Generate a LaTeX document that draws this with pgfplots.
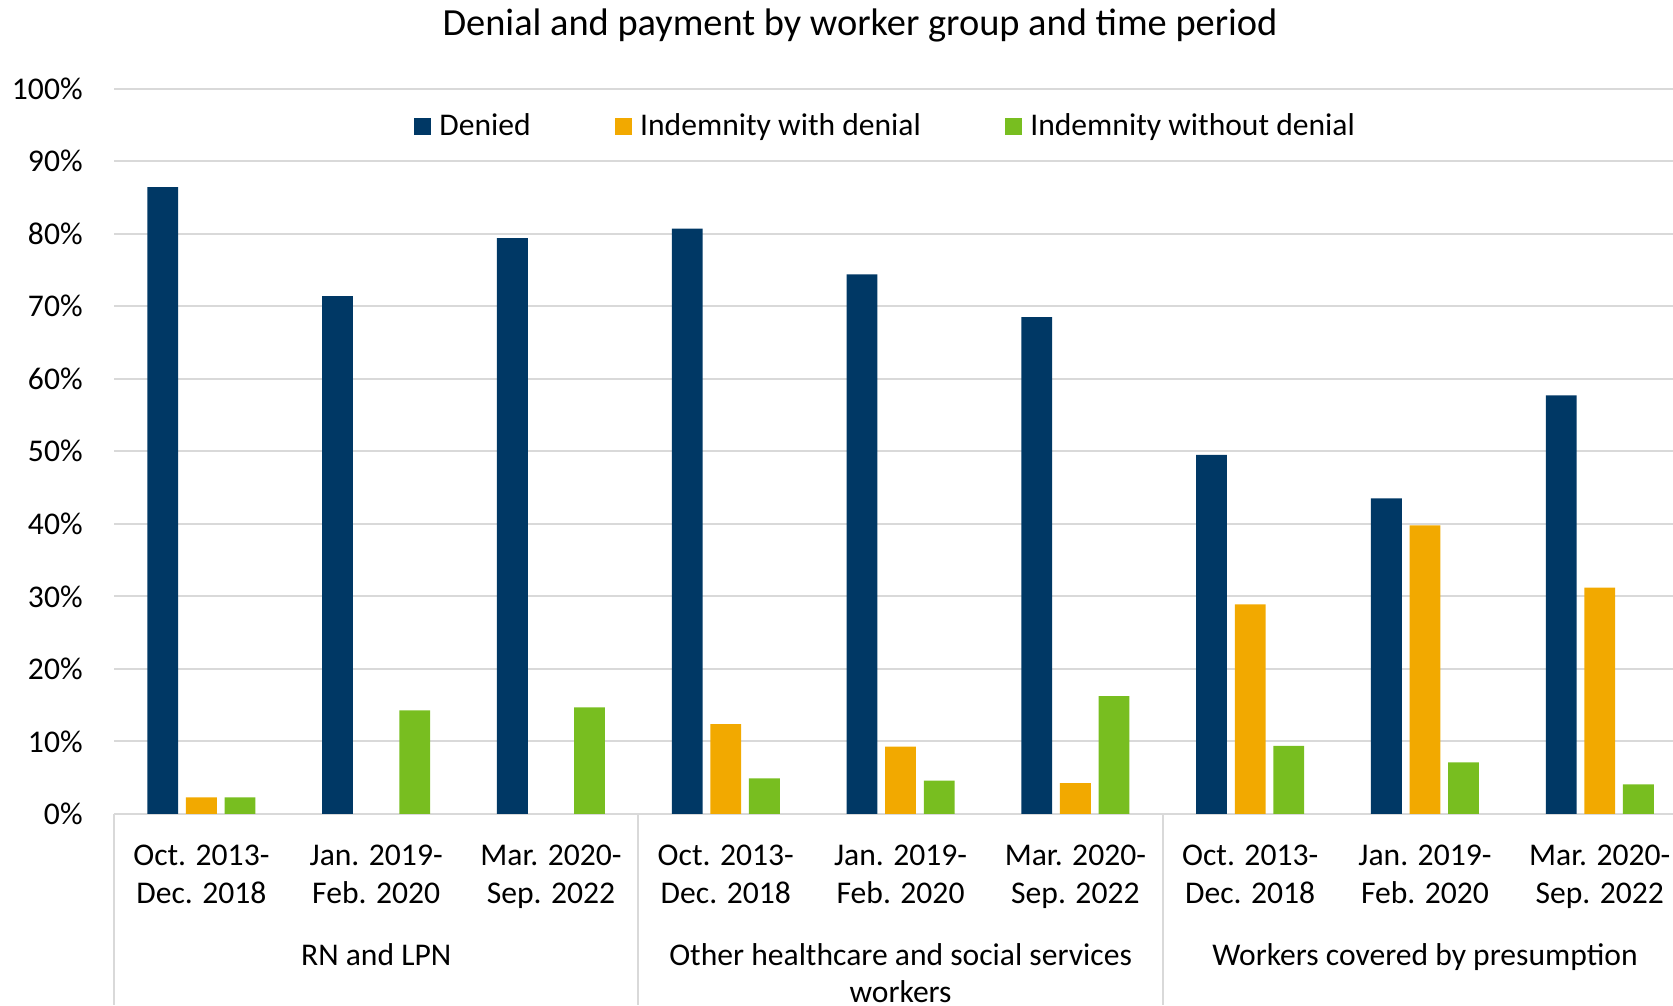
\documentclass[border=0pt]{standalone}
\usepackage{fontspec}
\setmainfont{Carlito}
\usepackage{pgfplots}
\pgfplotsset{compat=1.18}
\definecolor{navy}{HTML}{003865}
\definecolor{gold}{HTML}{F2A900}
\definecolor{lgreen}{HTML}{78BE20}
\definecolor{gridgray}{HTML}{D9D9D9}
\newcommand{\cf}{\fontsize{15.8}{19}\selectfont}
\pgfplotsset{sq/.style={legend image code/.code={\fill[##1] (0pt,-4.25pt) rectangle (8.5pt,4.25pt); \path (10.7pt,0pt);}}}
\begin{document}
\begin{tikzpicture}
\path[use as bounding box] (0,0) rectangle (836.5pt,502.5pt);
\node[font=\fontsize{19.2}{23}\selectfont, anchor=base] at (430pt,484.5pt) {Denial and payment by worker group and time period};
\begin{axis}[
  at={(57pt,95.5pt)}, anchor=south west,
  width=779.5pt, height=362.7pt, scale only axis,
  xmin=-0.5, xmax=8.419, ymin=0, ymax=100,
  ytick={0,10,...,100},
  yticklabels={0\%,10\%,20\%,30\%,40\%,50\%,60\%,70\%,80\%,90\%,100\%},
  xtick={0,...,8},
  xticklabels={{Oct. 2013-\\Dec. 2018},{Jan. 2019-\\Feb. 2020},{Mar. 2020-\\Sep. 2022},
               {Oct. 2013-\\Dec. 2018},{Jan. 2019-\\Feb. 2020},{Mar. 2020-\\Sep. 2022},
               {Oct. 2013-\\Dec. 2018},{Jan. 2019-\\Feb. 2020},{Mar. 2020-\\Sep. 2022}},
  xticklabel style={font=\cf, align=center, anchor=north, inner sep=0pt, yshift=-15.5pt},
  yticklabel style={font=\cf, anchor=east, inner sep=0pt, xshift=-15.5pt},
  ymajorgrids, grid style={gridgray, line width=1pt},
  axis line style={draw=none}, tick style={draw=none},
  major tick length=0pt,
  ybar=3.9pt, bar width=15.4pt,
  clip=false,
  legend style={at={(0.4955,0.948)}, anchor=center, draw=none, fill=none,
    font=\cf, legend columns=3, inner sep=0pt,
    /tikz/every even column/.append style={column sep=40pt}},
  legend cell align=left,
]
\addplot[fill=navy, draw=none, sq] coordinates {(0,86.4) (1,71.4) (2,79.4) (3,80.7) (4,74.4) (5,68.5) (6,49.5) (7,43.5) (8,57.7)};
\addplot[fill=gold, draw=none, sq] coordinates {(0,2.3) (3,12.4) (4,9.3) (5,4.25) (6,28.9) (7,39.8) (8,31.2)};
\addplot[fill=lgreen, draw=none, sq] coordinates {(0,2.3) (1,14.3) (2,14.7) (3,4.9) (4,4.6) (5,16.25) (6,9.4) (7,7.1) (8,4.1)};
\legend{Denied, Indemnity with denial, Indemnity without denial}
\draw[gridgray, line width=1pt] (axis cs:-0.5,0) -- ++(0pt,-95.5pt);
\draw[gridgray, line width=1pt] (axis cs:2.5,0) -- ++(0pt,-95.5pt);
\draw[gridgray, line width=1pt] (axis cs:5.5,0) -- ++(0pt,-95.5pt);
\node[font=\cf, anchor=base] at ([yshift=-75.5pt]axis cs:1,0) {RN and LPN};
\node[font=\cf, anchor=base] at ([yshift=-75.5pt]axis cs:4,0) {Other healthcare and social services};
\node[font=\cf, anchor=base] at ([yshift=-94.2pt]axis cs:4,0) {workers};
\node[font=\cf, anchor=base] at ([yshift=-75.5pt]axis cs:7,0) {Workers covered by presumption};
\end{axis}
\end{tikzpicture}
\end{document}
